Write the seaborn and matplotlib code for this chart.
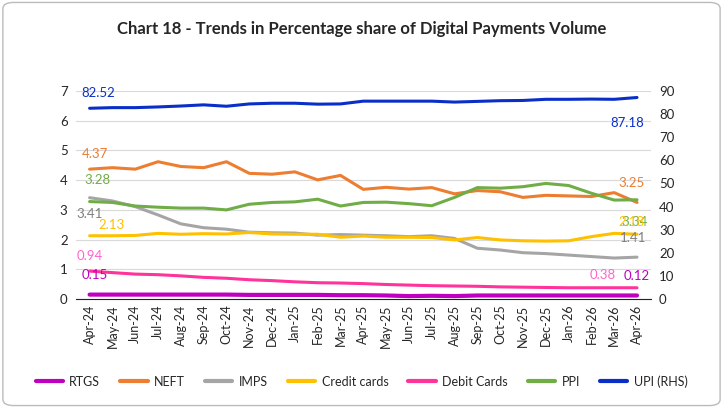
import matplotlib
matplotlib.use("Agg")
import matplotlib.pyplot as plt
import seaborn as sns
import pandas as pd
from matplotlib.patches import FancyBboxPatch

months = ["Apr-24", "May-24", "Jun-24", "Jul-24", "Aug-24", "Sep-24", "Oct-24", "Nov-24", "Dec-24",
          "Jan-25", "Feb-25", "Mar-25", "Apr-25", "May-25", "Jun-25", "Jul-25", "Aug-25", "Sep-25",
          "Oct-25", "Nov-25", "Dec-25", "Jan-26", "Feb-26", "Mar-26", "Apr-26"]
rtgs = [0.15, 0.15, 0.15, 0.15, 0.15, 0.15, 0.15, 0.14, 0.14, 0.14, 0.14, 0.13, 0.13, 0.12, 0.10,
        0.11, 0.10, 0.12, 0.12, 0.12, 0.12, 0.12, 0.12, 0.12, 0.12]
neft = [4.37, 4.42, 4.37, 4.62, 4.46, 4.42, 4.62, 4.23, 4.20, 4.28, 4.01, 4.16, 3.69, 3.76, 3.70,
        3.75, 3.54, 3.65, 3.61, 3.42, 3.49, 3.47, 3.45, 3.58, 3.25]
imps = [3.41, 3.30, 3.11, 2.83, 2.53, 2.40, 2.35, 2.25, 2.23, 2.22, 2.15, 2.17, 2.15, 2.13, 2.10,
        2.13, 2.04, 1.71, 1.65, 1.56, 1.53, 1.48, 1.43, 1.38, 1.41]
credit = [2.13, 2.13, 2.14, 2.21, 2.18, 2.20, 2.19, 2.24, 2.19, 2.18, 2.18, 2.08, 2.12, 2.08, 2.08,
          2.07, 1.99, 2.07, 1.99, 1.96, 1.95, 1.96, 2.10, 2.21, 2.18]
debit = [0.94, 0.89, 0.84, 0.82, 0.78, 0.73, 0.70, 0.65, 0.62, 0.58, 0.55, 0.54, 0.52, 0.49, 0.47,
         0.45, 0.44, 0.43, 0.41, 0.40, 0.39, 0.38, 0.38, 0.38, 0.38]
ppi = [3.28, 3.25, 3.13, 3.09, 3.06, 3.06, 3.00, 3.19, 3.25, 3.27, 3.36, 3.13, 3.25, 3.26, 3.21,
       3.14, 3.42, 3.75, 3.73, 3.78, 3.89, 3.82, 3.56, 3.33, 3.34]
upi = [82.52, 82.8, 82.8, 83.1, 83.5, 84.0, 83.4, 84.4, 84.7, 84.7, 84.3, 84.4, 85.6, 85.6, 85.6,
       85.6, 85.2, 85.5, 85.8, 85.9, 86.4, 86.4, 86.5, 86.4, 87.18]

series = {"RTGS": (rtgs, "#C000C0"), "NEFT": (neft, "#ED7D31"), "IMPS": (imps, "#A5A5A5"),
          "Credit cards": (credit, "#FFC000"), "Debit Cards": (debit, "#FF3399"),
          "PPI": (ppi, "#70AD47")}
upi_color = "#0A2FC8"

sns.set_style("white")
plt.rcParams["font.family"] = ["Lato", "DejaVu Sans"]

fig = plt.figure(figsize=(7.23, 4.08), dpi=100)
fig.patches.append(FancyBboxPatch((0.004, 0.006), 0.992, 0.988, boxstyle="round,pad=0,rounding_size=0.015",
                                  transform=fig.transFigure, fill=False, edgecolor="#BBBBBB", lw=1))
ax = fig.add_axes([0.105, 0.267, 0.795, 0.51])
ax2 = ax.twinx()
x = list(range(len(months)))

handles = []
for name, (vals, col) in series.items():
    df = pd.DataFrame({"x": x, "y": vals})
    sns.lineplot(data=df, x="x", y="y", ax=ax, color=col, lw=2.2 if name != "RTGS" else 3)
    handles.append(plt.Line2D([], [], color=col, lw=3, label=name))
sns.lineplot(data=pd.DataFrame({"x": x, "y": upi}), x="x", y="y", ax=ax2, color=upi_color, lw=2.2)
handles.append(plt.Line2D([], [], color=upi_color, lw=3, label="UPI (RHS)"))

ax.set_ylim(0, 7)
ax2.set_ylim(0, 90)
ax.set_xlim(-0.6, len(months) - 0.4)
ax.set_yticks(range(8))
ax2.set_yticks(range(0, 91, 10))
ax.set_xticks(x)
ax.set_xticklabels(months, rotation=90, fontsize=9)
ax.grid(axis="y", color="#D9D9D9", lw=0.8)
for a in (ax, ax2):
    a.set_xlabel("")
    a.set_ylabel("")
    a.tick_params(axis="y", labelsize=9.5, length=0, pad=6)
    for s in a.spines.values():
        s.set_visible(False)
ax.spines["bottom"].set_visible(True)
ax.spines["bottom"].set_color("#222222")
ax.tick_params(axis="x", length=0, pad=4)

def lab(a, i, v, txt, col, dx, dy):
    a.annotate(txt, (i, v), xytext=(dx, dy), textcoords="offset points", color=col,
               fontsize=9.5, ha="center", va="center")

lab(ax2, 0, upi[0], "82.52", upi_color, 6, 11)
lab(ax2, 24, upi[-1], "87.18", upi_color, -7, -18)
lab(ax, 0, neft[0], "4.37", "#ED7D31", 4, 11)
lab(ax, 24, neft[-1], "3.25", "#ED7D31", -4, 14)
lab(ax, 0, 3.55, "3.28", "#70AD47", 6, 10)
lab(ax, 24, ppi[-1], "3.34", "#70AD47", -2, -16)
lab(ax, 0, imps[0], "3.41", "#7F7F7F", 0, -12)
lab(ax, 24, imps[-1], "1.41", "#7F7F7F", -3, 14)
lab(ax, 0, credit[0], "2.13", "#FFC000", 16, 8)
lab(ax, 24, credit[-1], "2.18", "#FFC000", -4, 9)
lab(ax, 0, debit[0], "0.94", "#FF66CC", 0, 11)
lab(ax, 23, debit[-1], "0.38", "#FF66CC", -8, 9)
lab(ax, 0, rtgs[0], "0.15", "#C000C0", 4, 14)
lab(ax, 24, rtgs[-1], "0.12", "#C000C0", 0, 14)

fig.text(0.5, 0.93, "Chart 18 - Trends in Percentage share of Digital Payments Volume",
         ha="center", va="center", fontsize=12, fontweight="bold")
fig.legend(handles=handles, loc="center", bbox_to_anchor=(0.5, 0.065), ncol=7, frameon=False,
           fontsize=9, handlelength=2.2, columnspacing=1.6, handletextpad=0.5)
fig.savefig("out.png", dpi=100)
